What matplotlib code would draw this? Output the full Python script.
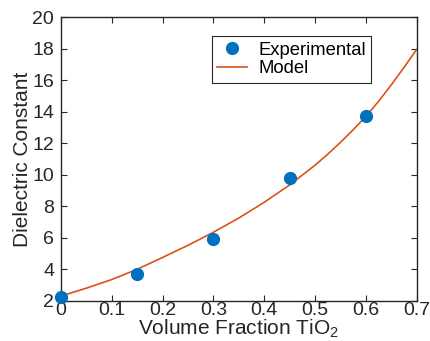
import numpy as np
import matplotlib
matplotlib.use('Agg')
import matplotlib.pyplot as plt

# Experimental points
vol_frac_exp = [0.0, 0.15, 0.30, 0.45, 0.60]
eps_exp = [2.27, 3.70, 5.89, 9.81, 13.72]

# Model curve
vol_frac_model = [0.0, 0.05, 0.10, 0.15, 0.20, 0.25, 0.30, 0.35,
                  0.40, 0.45, 0.50, 0.525, 0.55, 0.575, 0.60, 0.625,
                  0.65, 0.675, 0.70]
eps_model = [2.30, 2.80, 3.35, 4.00, 4.75, 5.52, 6.35, 7.25,
             8.25, 9.35, 10.60, 11.30, 12.05, 12.85, 13.70, 14.65,
             15.70, 16.80, 17.95]

x_ticks = [0, 0.1, 0.2, 0.3, 0.4, 0.5, 0.6, 0.7]
x_ticklabels = ['0', '0.1', '0.2', '0.3', '0.4', '0.5', '0.6', '0.7']
y_ticks = [2, 4, 6, 8, 10, 12, 14, 16, 18, 20]

plt.rcParams['font.family'] = ['Liberation Sans', 'DejaVu Sans']
plt.rcParams['mathtext.default'] = 'regular'

dark = '#262626'

fig = plt.figure(figsize=(4.3, 3.41), dpi=100)
ax = fig.add_axes([0.142, 0.118, 0.827, 0.832])

ax.plot(vol_frac_exp, eps_exp, 'o', color='#0072BD', markersize=8.5,
        label='Experimental', zorder=3, clip_on=False)
ax.plot(vol_frac_model, eps_model, '-', color='#D95319', linewidth=1.2,
        label='Model', zorder=2)

ax.set_xlim(0, 0.7)
ax.set_ylim(2, 20)
ax.set_xticks(x_ticks)
ax.set_xticklabels(x_ticklabels)
ax.set_yticks(y_ticks)

ax.tick_params(direction='in', top=True, right=True, length=4, width=0.8,
               labelsize=14, colors=dark)
ax.tick_params(axis='x', pad=1)
ax.tick_params(axis='y', pad=5)
for s in ax.spines.values():
    s.set_color(dark)
    s.set_linewidth(1.0)

ax.set_xlabel('Volume Fraction TiO$_2$', fontsize=15, color=dark, labelpad=-1)
ax.set_ylabel('Dielectric Constant', fontsize=15, color=dark, labelpad=0)

leg = ax.legend(loc='upper left', bbox_to_anchor=(0.424, 0.933), borderaxespad=0,
                fancybox=False, edgecolor=dark, fontsize=13.3, handlelength=1.6,
                handletextpad=0.6, borderpad=0.3, labelspacing=0.1, framealpha=1)
leg.get_frame().set_linewidth(0.8)

fig.savefig('out.png', dpi=100)
